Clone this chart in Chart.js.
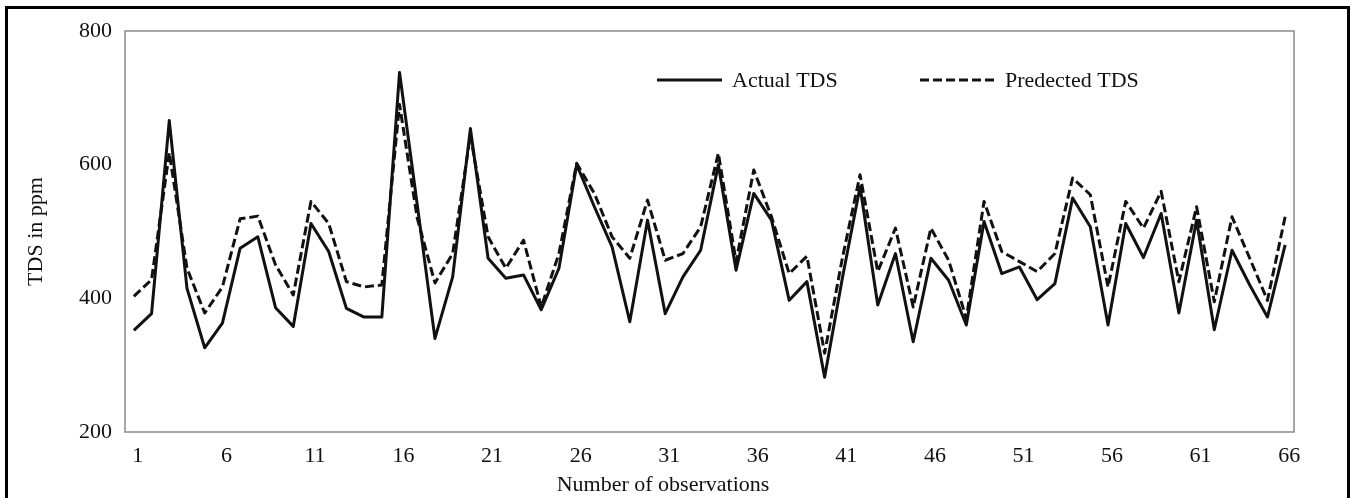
<!DOCTYPE html>
<html>
<head>
<meta charset="utf-8">
<script src="https://cdn.jsdelivr.net/npm/chart.js@4.4.1/dist/chart.umd.min.js"></script>
<style>
  html, body { margin: 0; padding: 0; background: #fff; overflow: hidden; }
  #wrap { position: relative; width: 1351px; height: 498px; overflow: hidden; }
  #frame { position: absolute; left: 5px; top: 6px; right: 1px; bottom: -10px; border: 3px solid #000; pointer-events: none; }
</style>
</head>
<body>
<div id="wrap">
  <canvas id="tds" width="1351" height="498"></canvas>
  <div id="frame"></div>
</div>
<script>
const observations = [];
for (let i = 1; i <= 66; i++) observations.push(String(i));

const actualTDS = [
  352, 377, 666, 415, 326, 363, 475, 492, 386, 358,
  512, 470, 385, 372, 372, 738, 540, 340, 432, 654,
  460, 430, 435, 383, 445, 600, 537, 477, 365, 517,
  377, 432, 472, 600, 442, 557, 517, 397, 425, 282,
  430, 567, 390, 467, 335, 460, 427, 360, 515, 437,
  447, 398, 422, 550, 507, 360, 512, 461, 527, 378,
  517, 353, 472, 420, 372, 480
];

const predictedTDS = [
  403, 428, 618, 445, 378, 417, 519, 523, 450, 405,
  545, 512, 425, 417, 420, 690, 520, 423, 467, 644,
  492, 445, 487, 387, 467, 602, 557, 492, 460, 547,
  457, 467, 507, 617, 455, 592, 522, 437, 463, 318,
  460, 585, 440, 505, 387, 505, 457, 370, 545, 470,
  455, 440, 467, 580, 555, 417, 545, 505, 560, 425,
  537, 395, 522, 460, 397, 522
];

const yTicks = [200, 400, 600, 800];
const tickEvery = 5;
const xTitle = "Number of observations";

const serif = { family: "'Liberation Serif', 'DejaVu Serif', serif", size: 22 };

// gray box around the plot area + x title (sits left of centre in the original)
const plotFrame = {
  id: "plotFrame",
  beforeDatasetsDraw(chart) {
    const { ctx, chartArea: a } = chart;
    ctx.save();
    ctx.strokeStyle = "#8a8a8a";
    ctx.lineWidth = 1.5;
    ctx.strokeRect(a.left, a.top, a.right - a.left, a.bottom - a.top);
    ctx.font = serif.size + "px " + serif.family;
    ctx.fillStyle = "#111";
    ctx.textAlign = "center";
    ctx.textBaseline = "middle";
    ctx.fillText(xTitle, 663, 485);
    ctx.restore();
  },
};

// legend drawn inside the plot, like the original figure
const innerLegend = {
  id: "innerLegend",
  afterDatasetsDraw(chart) {
    const { ctx } = chart;
    const items = [{ x: 657, w: 65 }, { x: 920, w: 75 }];
    const y = 80;
    ctx.save();
    ctx.font = serif.size + "px " + serif.family;
    ctx.textBaseline = "middle";
    ctx.fillStyle = "#111";
    chart.data.datasets.forEach((ds, i) => {
      const it = items[i];
      ctx.strokeStyle = ds.borderColor;
      ctx.lineWidth = 3;
      ctx.setLineDash(ds.borderDash || []);
      ctx.beginPath();
      ctx.moveTo(it.x, y);
      ctx.lineTo(it.x + it.w, y);
      ctx.stroke();
      ctx.setLineDash([]);
      ctx.fillText(ds.label, it.x + it.w + 10, y + 1);
    });
    ctx.restore();
  },
};

new Chart(document.getElementById("tds"), {
  type: "line",
  data: {
    labels: observations,
    datasets: [
      {
        label: "Actual TDS",
        data: actualTDS,
        borderColor: "#111",
        borderWidth: 3,
        borderJoinStyle: "round",
        pointRadius: 0,
        tension: 0,
        fill: false,
      },
      {
        label: "Predected TDS",
        data: predictedTDS,
        borderColor: "#111",
        borderWidth: 3,
        borderJoinStyle: "round",
        borderDash: [9, 4],
        pointRadius: 0,
        tension: 0,
        fill: false,
      },
    ],
  },
  options: {
    responsive: false,
    devicePixelRatio: 1,
    animation: false,
    layout: { padding: { top: 31, right: 57, left: 0, bottom: 0 } },
    plugins: {
      legend: { display: false },
      tooltip: { enabled: false },
    },
    scales: {
      x: {
        type: "category",
        offset: true,
        grid: { display: false, drawTicks: false },
        border: { display: false },
        ticks: {
          autoSkip: false,
          maxRotation: 0,
          padding: 11,
          labelOffset: 4,
          color: "#111",
          font: serif,
          callback: function (val, index) {
            return index % tickEvery === 0 ? this.getLabelForValue(val) : null;
          },
        },
        afterFit: (s) => { s.height = 66; },
      },
      y: {
        min: 200,
        max: 800,
        grid: { display: false, drawTicks: false },
        border: { display: false },
        afterBuildTicks: (s) => { s.ticks = yTicks.map((v) => ({ value: v })); },
        ticks: { padding: 13, color: "#111", font: serif },
        title: {
          display: true,
          text: "TDS in ppm",
          color: "#111",
          font: serif,
          padding: { top: 23, bottom: 0 },
        },
        afterFit: (s) => { s.width = 125; },
      },
    },
  },
  plugins: [plotFrame, innerLegend],
});
</script>
</body>
</html>
